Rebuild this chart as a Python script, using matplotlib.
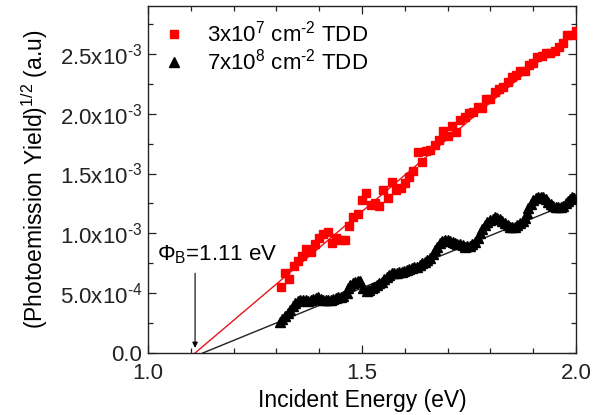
import math
import matplotlib
matplotlib.use("Agg")
import matplotlib.pyplot as plt
from matplotlib.ticker import MultipleLocator, FuncFormatter

plt.rcParams['font.family'] = ['Liberation Sans', 'DejaVu Sans']
plt.rcParams['mathtext.fontset'] = 'custom'
plt.rcParams['mathtext.rm'] = 'Liberation Sans'
plt.rcParams['mathtext.it'] = 'Liberation Sans:italic'
plt.rcParams['mathtext.default'] = 'regular'

# ---- data ----
red_E = [1.31, 1.32, 1.33, 1.34, 1.35, 1.36, 1.37, 1.38, 1.39, 1.40,
         1.41, 1.42, 1.43, 1.44, 1.45, 1.46, 1.47, 1.48, 1.49, 1.50,
         1.51, 1.52, 1.53, 1.54, 1.55, 1.56, 1.57, 1.58, 1.59, 1.60,
         1.61, 1.62, 1.63, 1.64, 1.65, 1.66, 1.67, 1.68, 1.69, 1.70,
         1.71, 1.72, 1.73, 1.74, 1.75, 1.76, 1.77, 1.78, 1.79, 1.80,
         1.81, 1.82, 1.83, 1.84, 1.85, 1.86, 1.87, 1.88, 1.89, 1.90,
         1.91, 1.92, 1.93, 1.94, 1.95, 1.96, 1.97, 1.98, 1.99, 2.00]
red_Y = [0.555, 0.670, 0.616, 0.727, 0.772, 0.811, 0.867, 0.847, 0.911, 0.959,
         0.995, 1.014, 0.917, 0.959, 0.945, 0.945, 1.062, 1.140, 1.162, 1.279,
         1.335, 1.237, 1.252, 1.229, 1.363, 1.293, 1.432, 1.363, 1.377, 1.424,
         1.469, 1.524, 1.683, 1.600, 1.691, 1.697, 1.739, 1.781, 1.859, 1.814,
         1.898, 1.850, 1.948, 1.976, 2.004, 2.018, 2.054, 2.046, 2.121, 2.121,
         2.185, 2.205, 2.221, 2.268, 2.305, 2.324, 2.360, 2.360, 2.408, 2.427,
         2.477, 2.483, 2.506, 2.506, 2.528, 2.561, 2.590, 2.659, 2.659, 2.692]

black_E = [1.308, 1.314, 1.320, 1.326, 1.332, 1.338, 1.343, 1.351, 1.356, 1.362,
           1.368, 1.374, 1.380, 1.386, 1.392, 1.398, 1.404, 1.409, 1.415, 1.421,
           1.427, 1.433, 1.439, 1.445, 1.451, 1.456, 1.464, 1.468, 1.472, 1.478,
           1.484, 1.490, 1.495, 1.503, 1.511, 1.517, 1.523, 1.528, 1.534, 1.540,
           1.546, 1.552, 1.558, 1.563, 1.569, 1.575, 1.581, 1.587, 1.593, 1.599,
           1.604, 1.610, 1.616, 1.622, 1.628, 1.636, 1.641, 1.647, 1.653, 1.659,
           1.665, 1.671, 1.676, 1.682, 1.688, 1.694, 1.700, 1.706, 1.712, 1.717,
           1.723, 1.729, 1.735, 1.741, 1.746, 1.752, 1.758, 1.764, 1.770, 1.776,
           1.781, 1.787, 1.793, 1.799, 1.805, 1.811, 1.816, 1.822, 1.828, 1.834,
           1.840, 1.846, 1.851, 1.857, 1.863, 1.869, 1.875, 1.881, 1.885, 1.889,
           1.895, 1.900, 1.906, 1.912, 1.918, 1.923, 1.929, 1.935, 1.941, 1.947,
           1.953, 1.959, 1.965, 1.970, 1.976, 1.982, 1.986, 1.990, 1.995]
black_Y = [0.262, 0.285, 0.309, 0.335, 0.360, 0.390, 0.415, 0.437, 0.441, 0.443,
           0.440, 0.437, 0.445, 0.449, 0.458, 0.466, 0.455, 0.443, 0.441, 0.443,
           0.446, 0.449, 0.458, 0.466, 0.471, 0.477, 0.499, 0.540, 0.569, 0.585,
           0.596, 0.601, 0.605, 0.541, 0.521, 0.530, 0.541, 0.555, 0.569, 0.583,
           0.596, 0.618, 0.638, 0.652, 0.666, 0.669, 0.671, 0.676, 0.680, 0.687,
           0.694, 0.701, 0.708, 0.715, 0.722, 0.736, 0.750, 0.763, 0.778, 0.792,
           0.825, 0.861, 0.890, 0.917, 0.932, 0.945, 0.941, 0.936, 0.929, 0.922,
           0.915, 0.909, 0.899, 0.889, 0.892, 0.895, 0.912, 0.931, 0.965, 1.001,
           1.035, 1.070, 1.092, 1.112, 1.124, 1.135, 1.127, 1.118, 1.104, 1.090,
           1.073, 1.056, 1.053, 1.051, 1.068, 1.084, 1.105, 1.126, 1.168, 1.210,
           1.245, 1.279, 1.293, 1.307, 1.305, 1.302, 1.284, 1.265, 1.247, 1.229,
           1.223, 1.218, 1.223, 1.229, 1.252, 1.274, 1.290, 1.307, 1.293]

red_fit_E = [1.11, 2.00]
red_fit_Y = [0.0, 2.70]
black_fit_E = [1.128, 2.00]
black_fit_Y = [0.0, 1.274]

scale = 1e-3
HY = '\u2010'
legend_labels = [r'3x10$^{7}$ cm$^{' + HY + r'2}$ TDD',
                 r'7x10$^{8}$ cm$^{' + HY + r'2}$ TDD']
phi_value = 1.11

fig = plt.figure(figsize=(6.02, 4.15), dpi=100)
ax = fig.add_axes([148/602, 62/415, 428/602, 347/415])

ax.plot(red_fit_E, [v*scale for v in red_fit_Y], color='#e8141c', lw=1.0, zorder=2)
ax.plot(black_fit_E, [v*scale for v in black_fit_Y], color='#202020', lw=1.0, zorder=2)
hr, = ax.plot(red_E, [v*scale for v in red_Y], ls='none', marker='s', ms=6,
              color='#ff0000', mec='#ff0000', zorder=3)
hb, = ax.plot(black_E, [v*scale for v in black_Y], ls='none', marker='^', ms=7,
              color='black', zorder=3)

ax.set_xlim(1.0, 2.0)
ax.set_ylim(0, 2.9e-3)
ax.xaxis.set_major_locator(MultipleLocator(0.5))
ax.xaxis.set_minor_locator(MultipleLocator(0.1))
ax.yaxis.set_major_locator(MultipleLocator(0.5e-3))
ax.yaxis.set_minor_locator(MultipleLocator(0.25e-3))

def yfmt(v, pos):
    if abs(v) < 1e-12:
        return '0.0'
    e = int(math.floor(math.log10(abs(v)) + 1e-9))
    m = v / 10**e
    return r'%.1fx10$^{%s%d}$' % (m, HY, -e)

ax.yaxis.set_major_formatter(FuncFormatter(yfmt))
ax.xaxis.set_major_formatter(FuncFormatter(lambda v, p: '%.1f' % v))

ax.tick_params(which='both', direction='in', top=True, right=True, labelsize=16,
               width=0.9, colors='#222222')
ax.tick_params(which='major', length=6, pad=4)
ax.tick_params(which='minor', length=3.5)
ax.tick_params(axis='x', which='major', pad=7)
for s in ax.spines.values():
    s.set_linewidth(1.0)
    s.set_color('#222222')

ax.set_xlabel('Incident Energy (eV)', fontsize=16.5, labelpad=4)
ax.set_ylabel(r'(Photoemission Yield)$^{1/2}$ (a.u)', fontsize=16.5, labelpad=7)

leg = ax.legend([hr, hb], legend_labels, loc='upper left', bbox_to_anchor=(0.0, 1.0),
                frameon=False, fontsize=16, handlelength=1.0, handletextpad=1.0,
                borderaxespad=0.2, labelspacing=0.1, borderpad=0.45)

ax.text(1.022, 0.82e-3, r'$\Phi_{B}$=%.2f eV' % phi_value, fontsize=16,
        ha='left', va='center')
ax.annotate('', xy=(phi_value, 0.02e-3), xytext=(phi_value, 0.69e-3),
            arrowprops=dict(arrowstyle='-|>', color='black', lw=0.8,
                            mutation_scale=8))

fig.savefig('out.png', dpi=100)
